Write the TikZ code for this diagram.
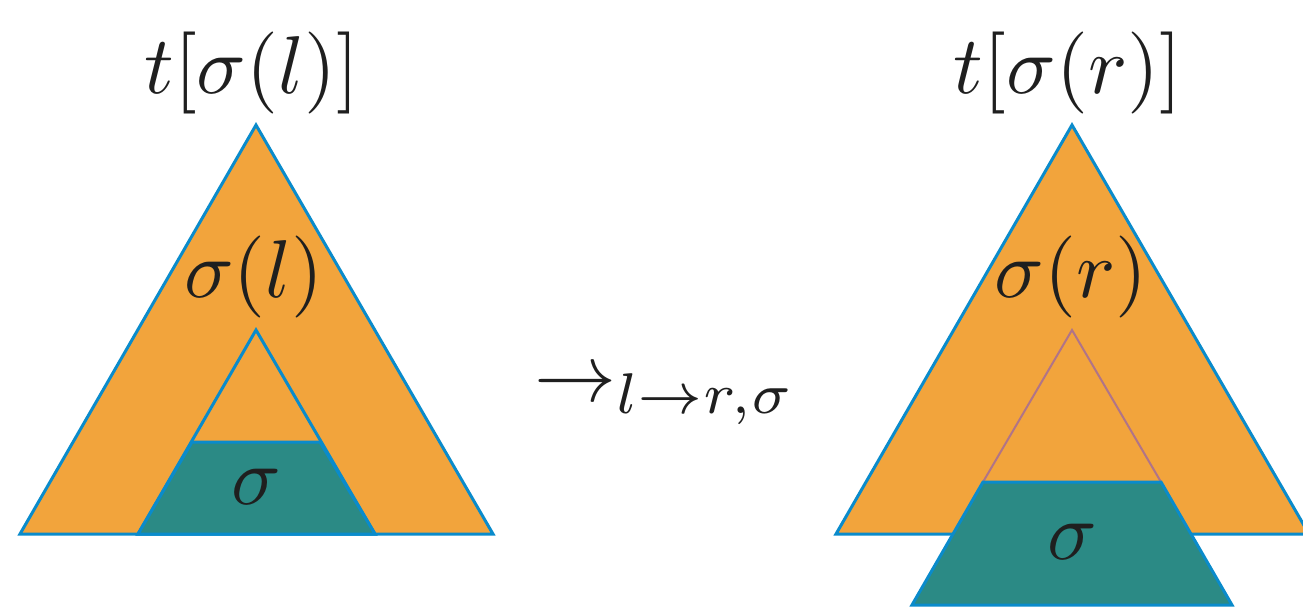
\documentclass[tikz,border=0pt]{standalone}
\definecolor{triorange}{HTML}{F2A43C}
\definecolor{triteal}{HTML}{2B8A85}
\definecolor{triblue}{HTML}{0A8BCB}
\definecolor{tripurple}{HTML}{B07488}
\tikzset{
  outer/.style={fill=triorange, draw=triblue, line width=1.5pt},
  innertri/.style={fill=triorange, draw=triblue, line width=1.5pt},
  sigmapart/.style={fill=triteal, draw=triblue, line width=1.5pt},
  lbl/.style={anchor=base, inner sep=0pt, font=\fontsize{10}{12}\selectfont, scale=4.1, text=black!88},
}
\begin{document}
\begin{tikzpicture}[x=0.5pt, y=-0.5pt]
\useasboundingbox (0,0) rectangle (1303,607);
\clip (0,0) rectangle (1303,607);
% left tree
\draw[outer] (256,125) -- (493,534) -- (20,534) -- cycle;
\draw[innertri] (256,330) -- (375,534) -- (138,534) -- cycle;
\draw[sigmapart] (192,442) -- (320,442) -- (375,534) -- (138,534) -- cycle;
% right tree
\draw[outer] (1072,125) -- (1309,534) -- (836,534) -- cycle;
\draw[tripurple, line width=1pt] (983,482) -- (1072,330) -- (1161,482);
\draw[sigmapart] (983,482) -- (1161,482) -- (1232,605) -- (912,605) -- cycle;
% labels
\node[lbl] (tl) at (252,93) {$t[\sigma(l)]$};
\node[lbl] (sl) at (254,297) {$\sigma(l)$};
\node[lbl] (sigl) at (256,504) {$\sigma$};
\node[lbl] (tr) at (1068,93) {$t[\sigma(r)]$};
\node[lbl] (sr) at (1071,297) {$\sigma(r)$};
\node[lbl] (sigr) at (1072,559) {$\sigma$};
\node[lbl, anchor=base west] (step) at (533,401) {$\rightarrow_{l\rightarrow r,\sigma}$};
\end{tikzpicture}
\end{document}
